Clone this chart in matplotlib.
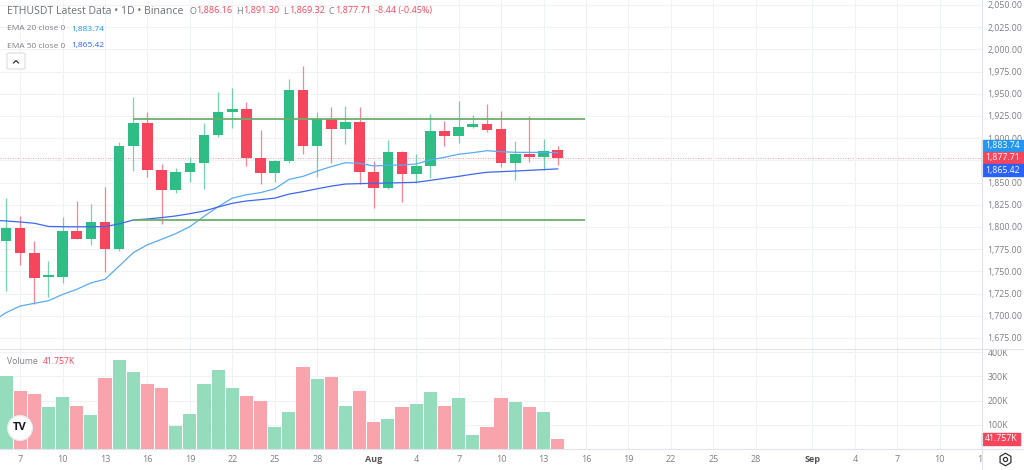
import matplotlib.pyplot as plt
import matplotlib.dates as mdates
from matplotlib.patches import Rectangle, Ellipse, FancyBboxPatch
from matplotlib.lines import Line2D
from matplotlib.ticker import FuncFormatter
import pandas as pd

plt.rcParams['font.family'] = ['Open Sans', 'DejaVu Sans']

# daily candles, Jul 6 - Aug 14
dates = pd.date_range('2023-07-06', '2023-08-14', freq='D')
opens = [1784.2, 1798.5, 1770.7, 1744.0, 1744.0, 1795.9, 1786.8, 1806.0, 1775.6, 1891.2,
         1916.8, 1863.8, 1841.7, 1861.9, 1871.7, 1903.6, 1929.5, 1933.2, 1877.7, 1860.8,
         1874.3, 1953.9, 1891.6, 1921.3, 1910.0, 1917.9, 1861.9, 1844.3, 1884.8, 1859.7,
         1868.7, 1908.1, 1902.8, 1913.0, 1915.6, 1910.0, 1871.7, 1881.9, 1879.2, 1886.16]
highs = [1833.0, 1812.4, 1784.2, 1761.7, 1811.6, 1829.6, 1826.0, 1845.4, 1895.7, 1946.0,
         1929.2, 1870.6, 1866.0, 1878.5, 1916.8, 1952.0, 1956.2, 1941.1, 1909.2, 1875.0,
         1966.7, 1981.3, 1929.2, 1935.5, 1936.6, 1935.5, 1874.3, 1898.0, 1885.5, 1881.9,
         1927.3, 1919.4, 1942.2, 1926.1, 1938.2, 1931.0, 1897.2, 1925.0, 1899.1, 1891.30]
lows = [1728.3, 1757.2, 1713.3, 1721.5, 1737.3, 1786.5, 1779.4, 1749.7, 1773.3, 1863.4,
        1856.7, 1803.0, 1838.0, 1851.0, 1842.8, 1901.0, 1911.1, 1868.7, 1848.1, 1851.0,
        1872.0, 1881.9, 1856.7, 1871.7, 1893.5, 1848.4, 1821.7, 1843.0, 1828.5, 1849.2,
        1855.5, 1891.6, 1894.3, 1911.8, 1907.3, 1867.2, 1852.9, 1872.9, 1864.2, 1869.32]
closes = [1798.5, 1770.4, 1742.9, 1745.5, 1795.9, 1786.8, 1806.0, 1775.6, 1891.2, 1916.8,
          1864.2, 1841.7, 1862.3, 1871.7, 1903.6, 1929.5, 1933.2, 1877.7, 1860.8, 1874.3,
          1953.9, 1891.6, 1921.3, 1910.0, 1917.9, 1861.9, 1843.9, 1884.8, 1859.7, 1868.7,
          1908.1, 1902.8, 1913.0, 1915.6, 1909.2, 1871.7, 1881.9, 1879.2, 1885.6, 1877.71]
volumes_k = [303, 240, 225, 174, 214, 178, 141, 293, 365, 317,
             270, 252, 93, 144, 269, 324, 250, 217, 200, 89,
             154, 340, 287, 296, 177, 241, 110, 123, 174, 186,
             236, 177, 209, 59, 89, 209, 193, 173, 154, 41.757]

# EMA lines, Jul 5 - Aug 14
ema_dates = pd.date_range('2023-07-05', '2023-08-14', freq='D')
ema20 = [1693.0, 1703.5, 1711.0, 1714.0, 1717.0, 1724.0, 1729.8, 1737.0, 1741.1, 1756.0,
         1771.1, 1780.0, 1786.1, 1792.5, 1800.4, 1812.0, 1822.9, 1832.5, 1836.3, 1838.7,
         1843.0, 1853.5, 1857.0, 1863.0, 1868.0, 1872.4, 1871.7, 1868.7, 1869.5, 1869.8,
         1871.0, 1875.5, 1878.5, 1881.9, 1883.7, 1885.9, 1884.8, 1884.1, 1884.0, 1884.0, 1883.74]
ema50 = [1807.5, 1806.8, 1805.6, 1804.2, 1800.6, 1800.3, 1800.2, 1800.3, 1800.4, 1803.5,
         1807.9, 1809.0, 1810.6, 1812.4, 1815.0, 1818.0, 1822.5, 1826.7, 1829.3, 1830.8,
         1832.5, 1837.0, 1839.8, 1843.0, 1846.0, 1848.4, 1848.8, 1849.2, 1849.5, 1849.9,
         1850.3, 1852.5, 1854.8, 1857.0, 1859.5, 1861.6, 1862.3, 1863.0, 1863.8, 1864.6, 1865.42]

# drawn horizontal levels
level_prices = [1921.6, 1808.2]
level_from, level_to = '2023-07-15', '2023-08-15 22:00'

tick_dates = ['2023-07-07', '2023-07-10', '2023-07-13', '2023-07-16', '2023-07-19', '2023-07-22',
              '2023-07-25', '2023-07-28', '2023-08-01', '2023-08-04', '2023-08-07', '2023-08-10',
              '2023-08-13', '2023-08-16', '2023-08-19', '2023-08-22', '2023-08-25', '2023-08-28',
              '2023-09-01', '2023-09-04', '2023-09-07', '2023-09-10', '2023-09-13']
tick_labels = ['7', '10', '13', '16', '19', '22', '25', '28', 'Aug', '4', '7', '10',
               '13', '16', '19', '22', '25', '28', 'Sep', '4', '7', '10', '13']
price_ticks = [1675, 1700, 1725, 1750, 1775, 1800, 1825, 1850, 1875, 1900,
               1925, 1950, 1975, 2000, 2025, 2050]
vol_ticks = [100, 200, 300, 400]

UP, DOWN = '#2ebd85', '#f6465d'
UP_V, DOWN_V = '#95dcbd', '#f9a3ad'
GRID = '#f0f2f5'
TXT = '#7d7f88'

W, H = 1024, 470
def fx(px):
    return px / W
def fy(py):
    return 1 - py / H

fig = plt.figure(figsize=(W / 100, H / 100), dpi=100, facecolor='white')
ax = fig.add_axes([0, fy(349), fx(982), 349 / H])
axv = fig.add_axes([0, fy(449), fx(982), 100 / H])
axx = fig.add_axes([0, 0, fx(982), fy(449)])

x = mdates.date2num(dates)
x0 = x[0]
xlim = (x0 - 0.424, x0 + 68.98)
tx = mdates.date2num(pd.to_datetime(tick_dates))

for a in (ax, axv, axx):
    a.set_xlim(*xlim)
    for s in a.spines.values():
        s.set_visible(False)
    a.set_facecolor('none')

ax.set_ylim(1662.6, 2055.6)
axv.set_ylim(0, 412.4)

def ypx(axis, v):
    return H - axis.transData.transform((x0, v))[1]

# where the value tags sit on the right scale
y_close = ypx(ax, closes[-1])
y_e20 = min(ypx(ax, ema20[-1]), y_close - 12.3)
y_e50 = max(ypx(ax, ema50[-1]), y_close + 12.3)
tag_rows = [y_e20, y_close, y_e50]

def price_fmt(v, p):
    # labels fully under a tag are hidden, as on the reference
    if any(abs(ypx(ax, v) - t) < 5 for t in tag_rows):
        return ''
    return f'{v:,.2f}'

# price pane
ax.set_xticks(tx)
ax.set_yticks(price_ticks)
ax.grid(True, color=GRID, lw=0.8, zorder=0)
ax.tick_params(axis='x', length=0, labelbottom=False)
ax.yaxis.tick_right()
ax.tick_params(axis='y', length=0, pad=4, labelsize=6.3, labelcolor=TXT)
ax.yaxis.set_major_formatter(FuncFormatter(price_fmt))

for xi, o, h, l, c in zip(x, opens, highs, lows, closes):
    col = UP if c >= o else DOWN
    ax.vlines(xi, l, h, color=col, lw=0.9, alpha=0.65, zorder=2)
    ax.bar(xi, max(abs(c - o), 1.3), bottom=min(o, c), width=0.75, color=col, zorder=3)

ex = mdates.date2num(ema_dates)
ax.plot(ex, ema20, color='#58acf6', lw=0.9, zorder=4)
ax.plot(ex, ema50, color='#3d68f0', lw=0.9, zorder=4)
ax.hlines(level_prices, mdates.date2num(pd.Timestamp(level_from)),
          mdates.date2num(pd.Timestamp(level_to)), color='#6cae6c', lw=1.3, zorder=4)
ax.axhline(closes[-1], color=DOWN, lw=0.6, ls=(0, (1, 2)), alpha=0.7, zorder=1)

# volume pane
axv.set_xticks(tx)
axv.set_yticks(vol_ticks)
axv.grid(True, color=GRID, lw=0.8, zorder=0)
axv.tick_params(axis='x', length=0, labelbottom=False)
axv.yaxis.tick_right()
axv.tick_params(axis='y', length=0, pad=4, labelsize=6.3, labelcolor=TXT)
axv.yaxis.set_major_formatter(FuncFormatter(lambda v, p: f'{int(v)}K'))
vcols = [UP_V if c >= o else DOWN_V for o, c in zip(opens, closes)]
axv.bar(x, volumes_k, width=0.93, color=vcols, zorder=2)

# date strip
axx.set_ylim(0, 21)
axx.set_xticks([])
axx.set_yticks([])
for t, lab in zip(tx, tick_labels):
    bold = lab in ('Aug', 'Sep')
    axx.text(t, 11, lab, ha='center', va='center', fontsize=6.5,
             color='#555' if bold else TXT, fontweight='bold' if bold else 'normal',
             clip_on=True)

# separators
fig.add_artist(Line2D([fx(982), fx(982)], [0, 1], color='#e0e3eb', lw=0.8))
fig.add_artist(Line2D([0, 1], [fy(349), fy(349)], color='#e0e3eb', lw=0.8))
fig.add_artist(Line2D([0, 1], [fy(449), fy(449)], color='#e0e3eb', lw=0.8))

def tag(y, text, color, w=42):
    fig.add_artist(Rectangle((fx(982), fy(y + 6)), w / W, 12 / H, color=color,
                             transform=fig.transFigure))
    fig.text(fx(982 + w / 2), fy(y), text, color='white', fontsize=6.3,
             ha='center', va='center')

tag(y_e20, f'{ema20[-1]:,.2f}', '#2196f3')
tag(y_close, f'{closes[-1]:,.2f}', DOWN)
tag(y_e50, f'{ema50[-1]:,.2f}', '#2962ff')
tag(ypx(axv, volumes_k[-1]), f'{volumes_k[-1]:.3f}K', DOWN, w=38)

# legend rows
renderer = fig.canvas.get_renderer()
def row(xp, yp, parts, size):
    for text, color, gap in parts:
        t = fig.text(fx(xp), fy(yp), text, color=color, fontsize=size, va='center', ha='left')
        xp += t.get_window_extent(renderer).width + gap

row(7, 11, [('ETHUSDT Latest Data \u2022 1D \u2022 Binance', '#6f717a', 6)], 7.6)
row(189, 11, [('O', TXT, 0.5), (f'{opens[-1]:,.2f}', DOWN, 4),
              ('H', TXT, 0.5), (f'{highs[-1]:,.2f}', DOWN, 4),
              ('L', TXT, 0.5), (f'{lows[-1]:,.2f}', DOWN, 4),
              ('C', TXT, 0.5), (f'{closes[-1]:,.2f}', DOWN, 4),
              ('-8.44 (-0.45%)', DOWN, 0)], 6.5)
row(7, 29, [('EMA 20 close 0', TXT, 6), (f'{ema20[-1]:,.2f}', '#2196f3', 0)], 6.0)
row(7, 46, [('EMA 50 close 0', TXT, 6), (f'{ema50[-1]:,.2f}', '#2962ff', 0)], 6.0)
row(7, 362, [('Volume', TXT, 5), (f'{volumes_k[-1]:.3f}K', DOWN, 0)], 6.2)

# collapse button
fig.add_artist(FancyBboxPatch((fx(7), fy(69)), fx(18), 16 / H,
                              boxstyle='round,pad=0,rounding_size=0.003',
                              fc='white', ec='#d6d8de', lw=0.7, transform=fig.transFigure))
fig.add_artist(Line2D([fx(13.5), fx(16), fx(18.5)], [fy(63), fy(60.5), fy(63)],
                      color='#333', lw=0.9))

# TradingView logo and settings icon
fig.add_artist(Ellipse((fx(20), fy(428)), 25 / W, 25 / H, fc='white', ec='#e8e8ec',
                       lw=0.8, transform=fig.transFigure))
fig.text(fx(20), fy(428), 'TV', fontsize=8, fontweight='bold', color='#131722',
         ha='center', va='center')
fig.add_artist(Line2D([fx(1005)], [fy(459)], marker='h', ms=9, mfc='none', mec='#333',
                      mew=0.9))
fig.add_artist(Line2D([fx(1005)], [fy(459)], marker='o', ms=3, mfc='none', mec='#333',
                      mew=0.9))

fig.savefig('out.png', dpi=100, facecolor='white')
